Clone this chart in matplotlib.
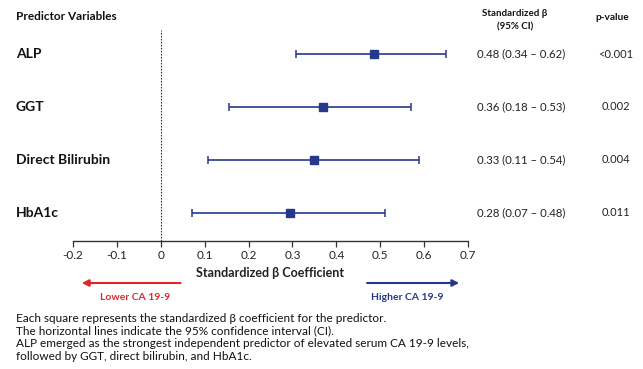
import matplotlib
matplotlib.use("Agg")
import matplotlib.pyplot as plt
import matplotlib.transforms as mtransforms
import numpy as np

plt.rcParams["font.family"] = ["Lato", "DejaVu Sans"]

# data
predictors = ["ALP", "GGT", "Direct Bilirubin", "HbA1c"]
beta = [0.485, 0.369, 0.350, 0.294]
ci_low = [0.308, 0.156, 0.107, 0.071]
ci_high = [0.651, 0.569, 0.589, 0.512]
beta_text = ["0.48 (0.34 \u2013 0.62)", "0.36 (0.18 \u2013 0.53)",
             "0.33 (0.11 \u2013 0.54)", "0.28 (0.07 \u2013 0.48)"]
p_text = ["<0.001", "0.002", "0.004", "0.011"]
xticks = [-0.2, -0.1, 0, 0.1, 0.2, 0.3, 0.4, 0.5, 0.6, 0.7]
notes = [
    "Each square represents the standardized \u03b2 coefficient for the predictor.",
    "The horizontal lines indicate the 95% confidence interval (CI).",
    "ALP emerged as the strongest independent predictor of elevated serum CA 19-9 levels,",
    "followed by GGT, direct bilirubin, and HbA1c.",
]

navy = "#26388a"
red = "#e0262b"
W, H = 643, 369

fig = plt.figure(figsize=(W / 100, H / 100), dpi=100)
ax = fig.add_axes([73 / W, 1 - 240.7 / H, 395 / W, 210.7 / H])

y = np.arange(len(predictors))
beta = np.array(beta)
err = [beta - np.array(ci_low), np.array(ci_high) - beta]
ax.errorbar(beta, y, xerr=err, fmt="s", color=navy, ecolor=navy,
            markersize=6, elinewidth=1.2, capsize=3, capthick=1.1)
ax.axvline(0, color="#333333", lw=0.8, ls=(0, (1.5, 1.2)))

ax.set_xlim(-0.2, 0.7)
ax.set_ylim(3.53, -0.456)
ax.set_xticks(xticks)
ax.set_xticklabels(["0" if t == 0 else "{:g}".format(t) for t in xticks],
                   fontsize=8.5, color="#222222")
ax.tick_params(axis="x", length=4, width=0.9, color="#333333", pad=3)
ax.set_yticks([])
for s in ["left", "top", "right"]:
    ax.spines[s].set_visible(False)
ax.spines["bottom"].set_color("#333333")
ax.spines["bottom"].set_linewidth(1.0)
ax.set_xlabel("Standardized \u03b2 Coefficient", fontsize=9,
              fontweight="bold", color="#222222", labelpad=4)

# table columns
row_tf = mtransforms.blended_transform_factory(fig.transFigure, ax.transData)
for i, name in enumerate(predictors):
    fig.text(16 / W, i, name, transform=row_tf, fontsize=10,
             fontweight="bold", va="center", ha="left", color="#111111")
    fig.text(521 / W, i, beta_text[i], transform=row_tf, fontsize=8.2,
             va="center", ha="center", color="#222222")
    fig.text(616 / W, i, p_text[i], transform=row_tf, fontsize=8,
             va="center", ha="center", color="#222222")

fig.text(16 / W, 1 - 17 / H, "Predictor Variables", fontsize=8.5,
         fontweight="bold", va="center", ha="left", color="#111111")
fig.text(515 / W, 1 - 20.5 / H, "Standardized \u03b2\n(95% CI)", fontsize=7,
         fontweight="bold", va="center", ha="center", color="#111111",
         linespacing=1.6)
fig.text(612 / W, 1 - 18 / H, "p-value", fontsize=7.3, fontweight="bold",
         va="center", ha="center", color="#111111")

# direction arrows
arr_tf = mtransforms.blended_transform_factory(ax.transData, fig.transFigure)
ya = 1 - 283 / H
ax.annotate("", xy=(-0.18, ya), xytext=(0.045, ya), xycoords=arr_tf,
            textcoords=arr_tf, annotation_clip=False,
            arrowprops=dict(arrowstyle="-|>", color=red, lw=1.5,
                            mutation_scale=10, shrinkA=0, shrinkB=0))
ax.annotate("", xy=(0.68, ya), xytext=(0.47, ya), xycoords=arr_tf,
            textcoords=arr_tf, annotation_clip=False,
            arrowprops=dict(arrowstyle="-|>", color=navy, lw=1.5,
                            mutation_scale=10, shrinkA=0, shrinkB=0))
yl = 1 - 297 / H
ax.text(-0.058, yl, "Lower CA 19-9", transform=arr_tf, color=red,
        fontsize=7.5, fontweight="bold", ha="center", va="center")
ax.text(0.5625, yl, "Higher CA 19-9", transform=arr_tf, color=navy,
        fontsize=7.5, fontweight="bold", ha="center", va="center")

# footnote
for k, line in enumerate(notes):
    fig.text(16 / W, 1 - (321.5 + 12.7 * k) / H, line, fontsize=8.5,
             va="baseline", ha="left", color="#111111")

fig.savefig("out.png", dpi=100, facecolor="white")
